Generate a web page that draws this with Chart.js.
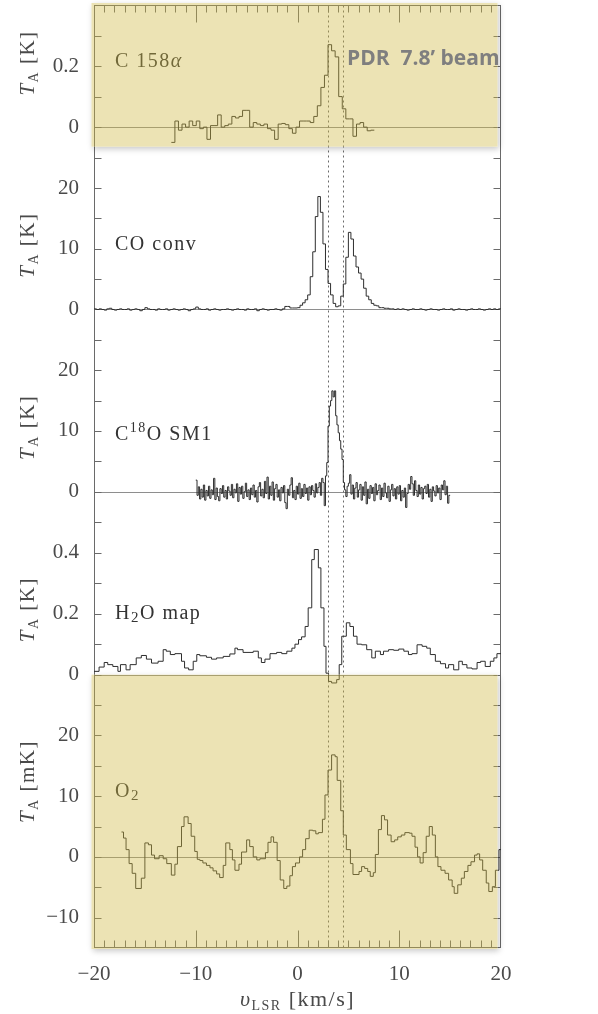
<!DOCTYPE html>
<html>
<head>
<meta charset="utf-8">
<title>Spectra toward the PDR</title>
<script src="https://cdn.jsdelivr.net/npm/chart.js@4.4.1/dist/chart.umd.min.js"></script>
<style>
  html, body { margin: 0; padding: 0; background: #fff; }
  #wrap { width: 598px; height: 1014px; }
</style>
</head>
<body>
<div id="wrap"><canvas id="spec" width="598" height="1014"></canvas></div>
<script>
// ---- spectra (velocity in km/s, antenna temperature) ----

// C 158alpha, K, uniform channels
const c158Start = -12.4;
const c158Width = 0.35;
const c158Ta = [
  -0.05, 0.02, -0.01, 0.01, 0.0, 0.02, 0.005, 0.02, -0.005, 0.0,
  -0.04, 0.005, 0.005, 0.04, 0.0, 0.005, 0.01, 0.035, 0.03, 0.035,
  0.055, 0.055, 0.0, 0.015, 0.01, 0.005, 0.01, -0.005, -0.01, -0.04,
  0.01, 0.012, 0.008, -0.005, -0.02, 0.0, 0.02, 0.02, 0.02, 0.015,
  0.035, 0.07, 0.13, 0.17, 0.27, 0.25, 0.23, 0.1, 0.06, 0.027,
  0.027, -0.03, 0.01, 0.015, 0.0, -0.012, -0.01
];

// CO convolved, K
const coStart = -20;
const coWidth = 0.25;
const coTa = [
  0.1, 0.0, 0.1, 0.0, -0.1, 0.1, 0.2, 0.0, -0.1, 0.0,
  0.1, 0.0, 0.0, 0.1, -0.1, 0.0, 0.1, 0.0, -0.2, 0.0,
  0.3, 0.1, 0.0, 0.0, -0.1, 0.1, 0.0, 0.0, 0.1, -0.1,
  0.0, 0.1, 0.0, -0.1, 0.0, 0.1, 0.0, -0.2, 0.0, 0.1,
  0.4, 0.1, 0.0, 0.0, 0.1, -0.1, 0.0, 0.1, 0.0, -0.1,
  0.0, 0.0, 0.1, 0.0, -0.1, 0.0, 0.1, 0.0, 0.0, -0.1,
  0.1, 0.0, 0.0, 0.1, -0.2, 0.0, 0.1, 0.0, -0.1, 0.0,
  0.0, 0.1, 0.0, -0.1, 0.1,
  0.5, 0.5, 0.25, 0.25, 0.25, 0.3, 0.7, 1.1, 1.6, 2.4,
  5.4, 9.5, 15.3, 18.6, 16.0, 10.8, 6.6, 4.3, 2.4, 1.0,
  0.45, 0.6, 2.2, 4.2, 8.6, 12.7, 11.6, 8.8, 7.0, 6.0,
  5.0, 3.5, 2.2, 1.6, 1.0, 0.7, 0.6, 0.3, 0.3, 0.2,
  0.2, 0.1, 0.1, 0.0, 0.1, 0.0, 0.1, 0.0, -0.1, 0.0,
  0.1, 0.0, 0.0, 0.1, 0.0, -0.1, 0.0, 0.1, 0.0, 0.0,
  -0.1, 0.0, 0.1, 0.0, 0.0, 0.1, -0.1, 0.0, 0.1, 0.0,
  0.0, -0.1, 0.0, 0.1, 0.0, 0.0, 0.1, 0.0, -0.1, 0.0,
  0.1, 0.0, 0.1, 0.0, 0.1
];

// C18O SM1, K
const c18oStart = -10;
const c18oWidth = 0.125;
const c18oTa = [
  1.9, -0.6, 0.8, -1.2, 0.4, -0.9, 1.1, -1.4, 0.2, -0.7,
  0.9, -1.1, 0.3, -0.5, 2.2, -1.3, 0.6, -0.8, -1.5, 0.5,
  -0.3, 1.0, -0.9, 0.2, -1.2, 0.8, 0.1, -0.6, 1.2, -1.0,
  0.4, -0.2, 1.3, -1.6, 0.7, -0.4, 0.9, -1.1, 0.0, 1.4,
  -0.8, 0.3, -1.3, 0.6, -0.5, 1.1, -0.9, 0.2, -1.7, 0.8,
  1.5, -0.7, 0.4, -1.0, 1.7, -0.3, 2.4, -1.2, 0.9, -0.6,
  1.6, -1.4, 0.5, 1.2, -0.9, 0.3, -1.5, 0.7, -0.2, 1.0,
  -1.8, -2.8, 0.4, -0.6, 1.1, 2.3, -1.0, 0.2, -1.3, 0.9,
  -0.4, 1.4, -1.1, 0.5, -0.8, 1.2, -0.3, 0.6, -1.4, 0.8,
  -0.5, 1.0, 0.2, -0.9, 1.3, -0.2, 0.7, 1.5, -0.6, 2.2,
  1.5, -2.3, 2.6, 4.8, 10.8, 14.1, 15.0, 16.6, 15.6, 16.6,
  12.5, 11.0, 9.7, 8.4, 7.0, 5.3, 1.5, 0.3,
  -0.8, 0.9, 1.4, 2.8, -0.4, 1.1, -1.2, 0.6, 1.5, -0.9,
  0.3, 1.2, -1.4, 0.8, -0.6, 1.6, -2.0, 0.4, -1.1, 1.0,
  -0.3, 0.7, -1.5, 1.3, -0.5, 0.2, 1.1, -1.3, 0.6, -0.8,
  1.4, -0.2, -1.0, 0.9, -1.6, 0.3, 1.2, -0.7, 0.5, -1.2,
  0.8, -0.4, 1.0, -1.5, 0.2, -0.9, 0.6, -2.6, -0.3, 1.2,
  0.4, 2.5, 1.3, -0.6, 1.8, 0.2, -0.8, 1.1, -0.4, 0.7,
  -1.2, 0.5, 0.9, -0.3, 1.2, -0.9, 0.4, -1.6, 0.8, 0.1,
  -0.7, 1.0, -0.2, 0.6, -1.3, 1.1, 0.3, 1.8, -0.5, 0.9,
  -1.9, -0.6
];

// H2O map, K (left channel edges)
const h2oVel = [
  -20.0, -19.5, -19.0, -18.65, -18.15, -17.65, -17.4, -16.85, -16.45, -15.85,
  -15.35, -14.85, -14.35, -13.7, -13.2, -12.9, -12.5, -12.05, -11.4, -11.1,
  -10.7, -10.25, -9.9, -9.6, -8.95, -8.45, -7.95, -7.3, -6.65, -6.15,
  -5.9, -5.35, -4.35, -3.85, -3.55, -3.2, -2.7, -2.05, -1.55, -1.05,
  -0.55, -0.25, 0.1, 0.4, 0.75, 1.05, 1.4, 1.65, 2.05, 2.3,
  2.6, 2.8, 3.05, 3.35, 3.85, 4.1, 4.35, 4.8, 5.15, 5.5,
  5.85, 6.3, 6.8, 7.3, 7.65, 8.15, 8.45, 8.95, 9.45, 9.95,
  10.45, 10.9, 11.25, 11.75, 12.25, 12.7, 13.05, 13.55, 14.05, 14.55,
  14.85, 15.35, 15.85, 16.2, 16.65, 17.15, 17.65, 18.0, 18.45, 18.95,
  19.3, 19.6
];
const h2oEnd = 20;
const h2oTa = [
  0.011, 0.025, 0.04, 0.033, 0.027, 0.011, 0.033, 0.016, 0.033, 0.055,
  0.063, 0.051, 0.038, 0.044, 0.082, 0.077, 0.066, 0.069, 0.044, 0.022,
  0.016, 0.044, 0.066, 0.062, 0.057, 0.051, 0.055, 0.06, 0.068, 0.087,
  0.082, 0.073, 0.077, 0.055, 0.04, 0.051, 0.069, 0.073, 0.069, 0.077,
  0.087, 0.1, 0.115, 0.124, 0.158, 0.219, 0.377, 0.41, 0.35, 0.219,
  0.093, 0.005, -0.022, -0.027, -0.016, 0.033, 0.126, 0.17, 0.158, 0.126,
  0.1, 0.098, 0.082, 0.055, 0.077, 0.066, 0.077, 0.082, 0.08, 0.084,
  0.077, 0.066, 0.069, 0.098, 0.093, 0.087, 0.066, 0.044, 0.036, 0.022,
  0.033, 0.016, 0.044, 0.033, 0.022, 0.019, 0.04, 0.044, 0.027, 0.044,
  0.055, 0.069
];

// O2, mK (left channel edges)
const o2Vel = [
  -17.3, -17.1, -16.85, -16.55, -16.25, -15.9, -15.35, -15.0, -14.65, -14.35,
  -14.05, -13.6, -13.2, -12.85, -12.4, -12.05, -11.8, -11.4, -11.15, -10.75,
  -10.45, -10.1, -9.85, -9.6, -9.3, -8.95, -8.6, -8.3, -7.95, -7.65,
  -7.3, -7.05, -6.65, -6.4, -6.15, -5.75, -5.5, -5.0, -4.7, -4.35,
  -4.0, -3.7, -3.15, -2.9, -2.6, -2.35, -2.0, -1.7, -1.35, -1.05,
  -0.75, -0.5, -0.2, 0.2, 0.5, 0.8, 1.15, 1.5, 1.8, 2.05,
  2.45, 2.7, 3.0, 3.35, 3.7, 3.9, 4.25, 4.5, 4.8, 5.2,
  5.45, 6.05, 6.3, 6.6, 6.9, 7.15, 7.45, 7.65, 7.95, 8.25,
  8.55, 8.85, 9.2, 9.55, 9.85, 10.2, 10.55, 11.0, 11.25, 11.55,
  11.8, 12.05, 12.35, 12.65, 12.95, 13.25, 13.55, 13.8, 14.1, 14.5,
  14.85, 15.2, 15.4, 15.75, 16.1, 16.4, 16.75, 17.05, 17.4, 17.65,
  17.9, 18.2, 18.55, 18.8, 19.15, 19.45, 19.8
];
const o2End = 20;
const o2Ta = [
  4.1, 3.1, 1.2, -1.1, -2.7, -5.2, -3.5, 2.3, 2.0, 0.3,
  -0.3, 0.2, -0.3, -1.1, -3.0, -1.2, 1.7, 5.0, 6.6, 5.5,
  3.4, 0.9, -0.4, -0.6, -1.0, -1.4, -1.8, -2.3, -2.8, -3.4,
  -1.4, 2.3, 1.2, -0.5, -2.2, -1.2, 0.8, 2.8, 1.7, 0.0,
  -0.5, -0.3, 0.7, 2.4, 3.3, 2.4, -0.6, -3.8, -5.2, -4.8,
  -3.1, -1.6, -1.0, 0.0, 1.2, 3.0, 4.4, 4.3, 3.8, 4.0,
  6.2, 10.2, 14.3, 16.8, 16.5, 12.6, 7.6, 3.6, 1.2, -1.1,
  -2.9, -2.4, -1.6, -1.9, -2.4, -3.2, -2.6, 0.4, 4.5, 6.8,
  6.1, 3.6, 2.5, 2.8, 3.3, 3.6, 4.0, 3.9, 3.4, 1.6,
  0.0, -1.0, 0.7, 3.4, 5.0, 3.6, 0.0, -1.6, -2.2, -2.7,
  -3.8, -4.9, -6.0, -4.6, -3.5, -2.4, -1.4, -0.8, 0.3, 0.5,
  -0.5, -2.2, -4.3, -5.7, -4.9, -2.2, 1.2
];

// PDR velocity markers, km/s
const vMarks = [3.0, 4.5];

// axis ticks
const xTickLabels = [-20, -10, 0, 10, 20];
const c158TickLabels = [0, 0.2];
const c158TickMarks = [-0.1, 0, 0.1, 0.2, 0.3];
const coTickLabels = [0, 10, 20];
const coTickMarks = [-5, 0, 5, 10, 15, 20];
const c18oTickLabels = [0, 10, 20];
const c18oTickMarks = [-5, 0, 5, 10, 15, 20];
const h2oTickLabels = [0, 0.2, 0.4];
const h2oTickMarks = [0, 0.1, 0.2, 0.3, 0.4];
const o2TickLabels = [-10, 0, 10, 20];
const o2TickMarks = [-10, -5, 0, 5, 10, 15, 20, 25];

// ---- drawing ----
const serif = '"Liberation Serif", "DejaVu Serif", serif';
const fNorm = '20px ' + serif;
const fItal = 'italic 20px ' + serif;
const fSub = '14px ' + serif;
const ink = '#2e2e2e';
const frameInk = '#6a6a6a';
const labelInk = '#4a4a4a';

function uniformSteps(start, width, ta) {
  const pts = ta.map((t, i) => ({x: start + i * width, y: t}));
  pts.push({x: start + ta.length * width, y: ta[ta.length - 1]});
  return pts;
}
function edgeSteps(vel, ta, end) {
  const pts = vel.map((v, i) => ({x: v, y: ta[i]}));
  pts.push({x: end, y: ta[ta.length - 1]});
  return pts;
}

const panels = [
  {id: 'y1', min: -0.1, max: 0.4, weight: 152.5, labels: c158TickLabels, marks: c158TickMarks,
   unit: 'K', nameAt: 0.197, titleAt: 0.21,
   name: [{t: 'C 158', f: fNorm}, {t: '\u03b1', f: fItal}],
   data: uniformSteps(c158Start, c158Width, c158Ta)},
  {id: 'y2', min: -5, max: 25, weight: 182, labels: coTickLabels, marks: coTickMarks,
   unit: 'K', nameAt: 9.8, titleAt: 10.6,
   name: [{t: 'CO conv', f: fNorm}],
   data: uniformSteps(coStart, coWidth, coTa)},
  {id: 'y3', min: -5, max: 25, weight: 182, labels: c18oTickLabels, marks: c18oTickMarks,
   unit: 'K', nameAt: 8.5, titleAt: 10.6,
   name: [{t: 'C', f: fNorm}, {t: '18', f: fSub, dy: -8}, {t: 'O SM1', f: fNorm}],
   data: uniformSteps(c18oStart, c18oWidth, c18oTa)},
  {id: 'y4', min: 0, max: 0.5, weight: 152.5, labels: h2oTickLabels, marks: h2oTickMarks,
   unit: 'K', nameAt: 0.184, titleAt: 0.213,
   name: [{t: 'H', f: fNorm}, {t: '2', f: '15px ' + serif, dy: 3}, {t: 'O map', f: fNorm}],
   data: edgeSteps(h2oVel, h2oTa, h2oEnd)},
  {id: 'y5', min: -15, max: 30, weight: 273, labels: o2TickLabels, marks: o2TickMarks,
   unit: 'mK', nameAt: 9.9, titleAt: 12.4,
   name: [{t: 'O', f: fNorm}, {t: '2', f: '15px ' + serif, dy: 3}],
   data: edgeSteps(o2Vel, o2Ta, o2End)}
];

function fmt(v) {
  const a = Math.round(Math.abs(v) * 100) / 100;
  return (v < 0 ? '\u2212' : '') + String(a);
}

function runsWidth(ctx, runs) {
  let w = 0;
  runs.forEach(r => { ctx.font = r.f; w += ctx.measureText(r.t).width; });
  return w;
}
function drawRuns(ctx, runs, x, y) {
  runs.forEach(r => {
    ctx.font = r.f;
    ctx.fillText(r.t, x, y + (r.dy || 0));
    x += ctx.measureText(r.t).width;
  });
}
function seg(ctx, x1, y1, x2, y2) {
  ctx.beginPath(); ctx.moveTo(x1, y1); ctx.lineTo(x2, y2); ctx.stroke();
}
function highlight(ctx, x, y, w, h) {
  const c = ctx.canvas;
  ctx.save();
  ctx.beginPath();
  ctx.rect(0, 0, c.width, c.height);
  ctx.rect(x, y, w, h);
  ctx.clip('evenodd');
  ctx.shadowColor = 'rgba(0,0,0,0.22)';
  ctx.shadowBlur = 6;
  ctx.shadowOffsetX = 1;
  ctx.shadowOffsetY = 2;
  ctx.fillStyle = '#fff';
  ctx.fillRect(x, y, w, h);
  ctx.restore();
  ctx.fillStyle = 'rgba(208,185,68,0.4)';
  ctx.fillRect(x, y, w, h);
}

const panelArt = {
  id: 'panelArt',
  beforeDatasetsDraw(chart) {
    const {ctx, chartArea: a, scales} = chart;
    const xs = scales.x;
    const L = Math.round(a.left) + 0.5, R = Math.round(a.right) - 0.5;
    const T = Math.round(a.top) + 0.5, B = Math.round(a.bottom) - 0.5;
    ctx.save();
    ctx.lineWidth = 1;

    // zero lines
    ctx.strokeStyle = '#8e8e8e';
    panels.forEach(p => {
      const y = Math.round(scales[p.id].getPixelForValue(0)) + 0.5;
      seg(ctx, L, y, R, y);
    });

    // velocity markers
    ctx.strokeStyle = '#6a6a6a';
    ctx.setLineDash([2, 3]);
    vMarks.forEach(v => {
      const x = Math.round(xs.getPixelForValue(v)) + 0.5;
      seg(ctx, x, T, x, B);
    });
    ctx.setLineDash([]);

    // frame and inward ticks
    ctx.strokeStyle = frameInk;
    ctx.strokeRect(L, T, R - L, B - T);
    for (let v = -19; v <= 19; v++) {
      const x = Math.round(xs.getPixelForValue(v)) + 0.5;
      const len = xTickLabels.includes(v) ? 17 : 7;
      seg(ctx, x, T, x, T + len);
      seg(ctx, x, B, x, B - len);
    }
    panels.forEach(p => {
      const s = scales[p.id];
      p.marks.forEach(v => {
        const y = Math.round(s.getPixelForValue(v)) + 0.5;
        seg(ctx, L, y, L + 7, y);
        seg(ctx, R, y, R - 7, y);
      });
    });
    ctx.restore();
  },
  afterDraw(chart) {
    const {ctx, chartArea: a, scales} = chart;
    ctx.save();
    ctx.fillStyle = '#333';
    ctx.textBaseline = 'alphabetic';
    ctx.textAlign = 'left';
    ctx.letterSpacing = '1.5px';

    // line names
    panels.forEach(p => {
      drawRuns(ctx, p.name, a.left + 21, scales[p.id].getPixelForValue(p.nameAt));
    });

    // y titles
    ctx.fillStyle = labelInk;
    panels.forEach(p => {
      const runs = [
        {t: 'T', f: 'italic 21px ' + serif},
        {t: 'A', f: fSub, dy: 4},
        {t: ' [' + p.unit + ']', f: '21px ' + serif}
      ];
      const w = runsWidth(ctx, runs);
      ctx.save();
      ctx.translate(34, scales[p.id].getPixelForValue(p.titleAt));
      ctx.rotate(-Math.PI / 2);
      drawRuns(ctx, runs, -w / 2, 0);
      ctx.restore();
    });

    // x title
    const xRuns = [
      {t: '\u03c5', f: 'italic 22px ' + serif},
      {t: 'LSR', f: fSub, dy: 4},
      {t: ' [km/s]', f: '22px ' + serif}
    ];
    const xw = runsWidth(ctx, xRuns);
    drawRuns(ctx, xRuns, (a.left + a.right) / 2 - xw / 2, 1006);

    // highlighted panels
    ctx.fillStyle = '#333';
    const hx = a.left - 2.5, hw = a.right - a.left - 1;
    const y1 = scales.y1, y5 = scales.y5;
    highlight(ctx, hx, a.top - 2, hw, y1.getPixelForValue(-0.064) - a.top + 2);
    highlight(ctx, hx, y5.top, hw, a.bottom - y5.top + 1);

    // beam note
    ctx.letterSpacing = '0px';
    ctx.fillStyle = '#7f7f7f';
    ctx.font = 'bold 21px "Open Sans", "Liberation Sans", sans-serif';
    ctx.fillText('PDR  7.8\u2019 beam', 347, 65);
    ctx.restore();
  }
};

// keep label half-heights from pushing the plot box inward
function noPad(s) {
  s.paddingTop = 0; s.paddingBottom = 0; s.paddingLeft = 0; s.paddingRight = 0;
}

const tickFont = {family: serif, size: 21};

const scales = {
  x: {
    type: 'linear',
    position: 'bottom',
    min: -20,
    max: 20,
    grid: {display: false},
    border: {display: false},
    ticks: {
      font: tickFont,
      color: labelInk,
      padding: 6,
      maxRotation: 0,
      autoSkip: false,
      callback: v => fmt(v)
    },
    afterBuildTicks: s => { s.ticks = xTickLabels.map(v => ({value: v})); },
    afterFit: s => { s.height = 66; noPad(s); }
  }
};
panels.forEach((p, k) => {
  scales[p.id] = {
    type: 'linear',
    position: 'left',
    stack: 'spectra',
    stackWeight: p.weight,
    weight: panels.length - k,
    min: p.min,
    max: p.max,
    grid: {display: false},
    border: {display: false},
    ticks: {
      font: tickFont,
      color: labelInk,
      padding: 7,
      callback: v => fmt(v)
    },
    afterBuildTicks: s => { s.ticks = p.labels.map(v => ({value: v})); },
    afterFit: s => { s.width = 94; noPad(s); }
  };
});

new Chart(document.getElementById('spec'), {
  type: 'line',
  data: {
    datasets: panels.map(p => ({
      data: p.data,
      yAxisID: p.id,
      borderColor: ink,
      borderWidth: 1,
      stepped: 'before',
      pointRadius: 0,
      fill: false,
      clip: false
    }))
  },
  options: {
    responsive: false,
    animation: false,
    devicePixelRatio: 1,
    layout: {padding: {left: 0, right: 97, top: 5, bottom: 0}},
    plugins: {legend: {display: false}, tooltip: {enabled: false}},
    scales: scales
  },
  plugins: [panelArt]
});
</script>
</body>
</html>
